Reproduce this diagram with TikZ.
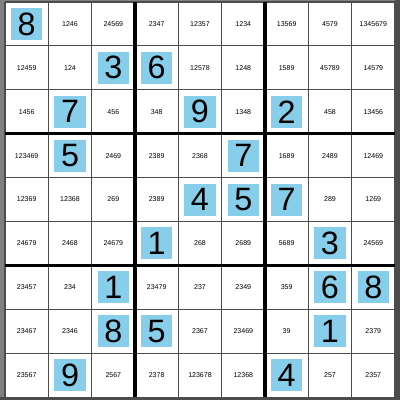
\documentclass[tikz,border=0pt]{standalone}
\usepackage{fontspec}
\setmainfont{Liberation Sans}
\definecolor{givenblue}{RGB}{135,206,235}
\colorlet{gridgray}{gray!60!black}

\begin{document}
\begin{tikzpicture}[x=0.025cm,y=-0.025cm]
\tikzset{cand/.style ={inner sep=0, font=\fontsize{5}{6}\selectfont},
  given/.style ={fill=givenblue, inner sep=0, minimum width=0.78cm, minimum height=0.8cm, font=\fontsize{23}{23}\selectfont},
  thinline/.style ={gridgray, line width=0.8pt},
  boxline/.style ={black, line width=2.2pt}}
\useasboundingbox (0,0) rectangle (400,400);
\fill[gray] (0,0) rectangle (400,400);
\fill[gray!60!black] (395,0) rectangle (400,400) (0,397) rectangle (400,400);
\fill[white] (5,2) rectangle (395,397);
% cells: one digit = given, else candidates
\foreach \line [count=\r] in {
  {8,1246,24569,2347,12357,1234,13569,4579,1345679},
  {12459,124,3,6,12578,1248,1589,45789,14579},
  {1456,7,456,348,9,1348,2,458,13456},
  {123469,5,2469,2389,2368,7,1689,2489,12469},
  {12369,12368,269,2389,4,5,7,289,1269},
  {24679,2468,24679,1,268,2689,5689,3,24569},
  {23457,234,1,23479,237,2349,359,6,8},
  {23467,2346,8,5,2367,23469,39,1,2379},
  {23567,9,2567,2378,123678,12368,4,257,2357}}
{\foreach \v [count=\c] in \line {
  \ifnum\v<10
    \node[given] (c\r\c) at ({5+43.33*(\c-0.5)},{2+43.9*(\r-0.5)}) {\v};
  \else
    \node[cand] (c\r\c) at ({5+43.33*(\c-0.5)},{2+43.9*(\r-0.5)}) {\v};
  \fi}}
% grid
\foreach \i in {0,...,9}{
  \draw[thinline] ({5+43.33*\i},2) -- ({5+43.33*\i},397);
  \draw[thinline] (5,{2+43.9*\i}) -- (395,{2+43.9*\i});}
\foreach \i in {3,6}{
  \draw[boxline] ({5+43.33*\i},2) -- ({5+43.33*\i},397);
  \draw[boxline] (5,{2+43.9*\i}) -- (395,{2+43.9*\i});}
\end{tikzpicture}
\end{document}
